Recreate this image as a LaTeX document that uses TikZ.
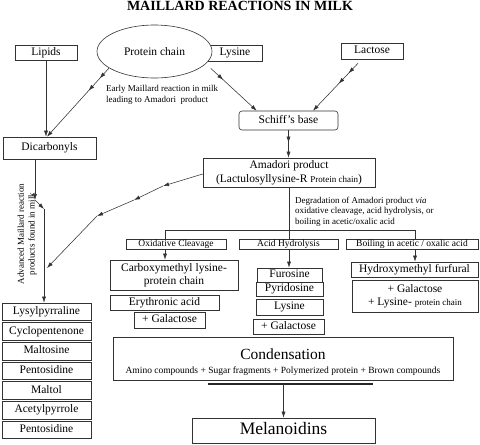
\documentclass[tikz,border=0pt]{standalone}
\usepackage{fontspec}
\setmainfont{Liberation Serif}
\usetikzlibrary{arrows.meta,decorations.markings,shapes.geometric}

\begin{document}
\begin{tikzpicture}[
    x=1pt, y=-1pt,
    >={Latex[length=6pt,width=4pt]},
    font=\fontsize{11.5}{13.5}\selectfont,
    frame/.style={
		rectangle,
		draw=black!80,
		line width=0.6pt,
		inner sep=0pt,
		text centered,
		fill=white
	},
	box/.style={frame, text height=8pt, text depth=2.5pt},
	tag/.style={frame, font=\fontsize{9.5}{11}\selectfont, text height=6.6pt, text depth=2pt},
	boxsize/.style 2 args={minimum width=#1pt, minimum height=#2pt},
	note/.style={inner sep=0pt, align=left, font=\fontsize{9}{10.7}\selectfont},
	link/.style={draw=black!80, line width=0.55pt},
	midtip/.style={postaction={decorate, decoration={markings, mark=at position #1 with {\arrow{>}}}}}
  ]
    \useasboundingbox (0,0) rectangle (480,445);
    \fill [white] (0,0) rectangle (480,445);

    % title
  \node [font=\fontsize{14}{16}\selectfont\bfseries] (title) at (240,6) {MAILLARD REACTIONS IN MILK};

    % starting compounds
  \node [box, boxsize={62}{15}] (lipids) at (46,52.5) {Lipids};
  \node [box, boxsize={54}{16}] (lysine) at (235,53) {Lysine};
  \node [ellipse, draw=black!80, line width=0.6pt, fill=white, inner sep=0pt,
         minimum width=115pt, minimum height=53pt] (protein) at (154.5,51.5) {Protein chain};
  \node [box, boxsize={62}{16}] (lactose) at (372,51) {Lactose};

  \node [box, boxsize={99}{19}, rounded corners=3pt] (schiff) at (288.5,120.5) {Schiff's base};
  \node [box, boxsize={93}{22}] (dicarb) at (49.5,148) {Dicarbonyls};
  \node [frame, align=center, boxsize={172}{29}] (amadori) at (289,172.5)
 {Amadori product\\(Lactulosyllysine-R {\fontsize{9}{10}\selectfont Protein chain})};

  \node [note, anchor=north west] (early) at (106,85)
 {Early Maillard reaction in milk\\leading to Amadori\ \ product};
  \node [note, anchor=north west] (degr) at (295,196.5)
 {Degradation of Amadori product \textit{via}\\oxidative cleavage, acid hydrolysis, or\\boiling in acetic/oxalic acid};
  \node [note, align=center, rotate=90] (adv) at (27,234)
 {Advanced Maillard reaction\\products found in milk};

    % degradation routes
  \node [tag, boxsize={100}{9.5}] (oxid) at (176,244.5) {Oxidative Cleavage};
  \node [tag, boxsize={99}{9.5}] (acid) at (288.5,244.5) {Acid Hydrolysis};
  \node [tag, boxsize={132}{9.5}] (boil) at (412,244.5) {Boiling in acetic / oxalic acid};

  \node [frame, align=center, boxsize={128}{30}] (carboxy) at (174,275)
 {Carboxymethyl lysine-\\protein chain};
  \node [box, boxsize={109}{15}] (erythro) at (164.5,302.5) {Erythronic acid};
  \node [box, boxsize={71}{16}] (galA) at (169.5,320) {+ Galactose};

  \node [box, boxsize={65}{14}] (furos) at (289.5,275) {Furosine};
  \node [box, boxsize={67}{14}] (pyrid) at (289.5,289) {Pyridosine};
  \node [box, boxsize={67}{16}] (lysB) at (289.5,307) {Lysine};
  \node [box, boxsize={71}{15}] (galB) at (288.5,326.5) {+ Galactose};

  \node [box, boxsize={127}{15}] (hmf) at (414.5,269.5) {Hydroxymethyl furfural};
  \node [frame, align=center, boxsize={126}{32}] (galC) at (415,296)
 {+ Galactose\\+ Lysine- {\fontsize{9}{10}\selectfont protein chain}};

    % advanced products
  \foreach \name [count=\i] in {Lysylpyrraline, Cyclopentenone, Maltosine, Pentosidine, Maltol, Acetylpyrrole, Pentosidine}
    \node [box, boxsize={89}{17.5}] (col\i) at (46.5,{292+19.7*\i}) {\name};

  \node [frame, align=center, boxsize={340}{43}] (cond) at (283,358.5)
 {{\fontsize{15.5}{12}\selectfont\rule{0pt}{18.5pt}Condensation}\\{\fontsize{9.5}{12}\selectfont Amino compounds + Sugar fragments + Polymerized protein + Brown compounds}};
  \node [box, boxsize={183}{25}, font=\fontsize{17.5}{20}\selectfont, text height=12pt, text depth=3.5pt] (melan) at (283.5,430.5) {Melanoidins};

    % helper points
  \coordinate (d1) at (35,200);
  \coordinate (d2) at (44,209);
  \coordinate (a1) at (163,186);
  \coordinate (a2) at (134,200);
  \coordinate (a3) at (97,216);
  \coordinate (advend) at (47,268);
  \coordinate (barL) at (165,230);
  \coordinate (barR) at (415,230);
  \coordinate (thL) at (208,384);
  \coordinate (thR) at (373,384);

    % early reaction
 \draw [link,->] (lipids.south) -- (lipids.south |- dicarb.north);
 \draw [link,->,midtip=0.15,midtip=0.33] (protein.200) -- ([xshift=-2.5pt]dicarb.north);
 \draw [link,->,midtip=0.27] ([xshift=3pt,yshift=-7pt]lysine.south west) -- ([xshift=18pt]schiff.north west);
 \draw [link,->,midtip=0.21,midtip=0.43] ([xshift=-14pt,yshift=-4pt]lactose.south) -- ([xshift=24.5pt]schiff.north);
 \draw [link,->,midtip=0.45] (schiff.south) -- (schiff.south |- amadori.north);

    % advanced reaction
 \draw [link,->] (dicarb.south -| d1) -- (d1);
 \draw [link,->] (d1) -- (d2);
 \draw [link,->] (d2) -- (d2 |- col1.north);
 \draw [link,->] ([yshift=-1.5pt]amadori.west) -- (a1);
 \draw [link,->] (a1) -- (a2);
 \draw [link,->] (a2) -- (a3);
 \draw [link,->] (a3) -- (advend);

    % degradation
 \draw [link] (amadori.south) -- (amadori.south |- acid.north);
 \draw [link] (barL) -- (barR);
 \draw [link] (barL) -- (barL |- oxid.north);
 \draw [link] (barR) -- (barR |- boil.north);
 \draw [link,->] (barL |- oxid.south) -- (barL |- carboxy.north);
 \draw [link,->] (amadori.south |- acid.south) -- (amadori.south |- furos.north);
 \draw [link,->] (barR |- boil.south) -- (barR |- hmf.north);

    % condensation
 \draw [draw=black!85, line width=1.5pt] (thL) -- (thR);
 \draw [link,->] (melan.north |- thL) -- (melan.north);

\end{tikzpicture}
\end{document}
